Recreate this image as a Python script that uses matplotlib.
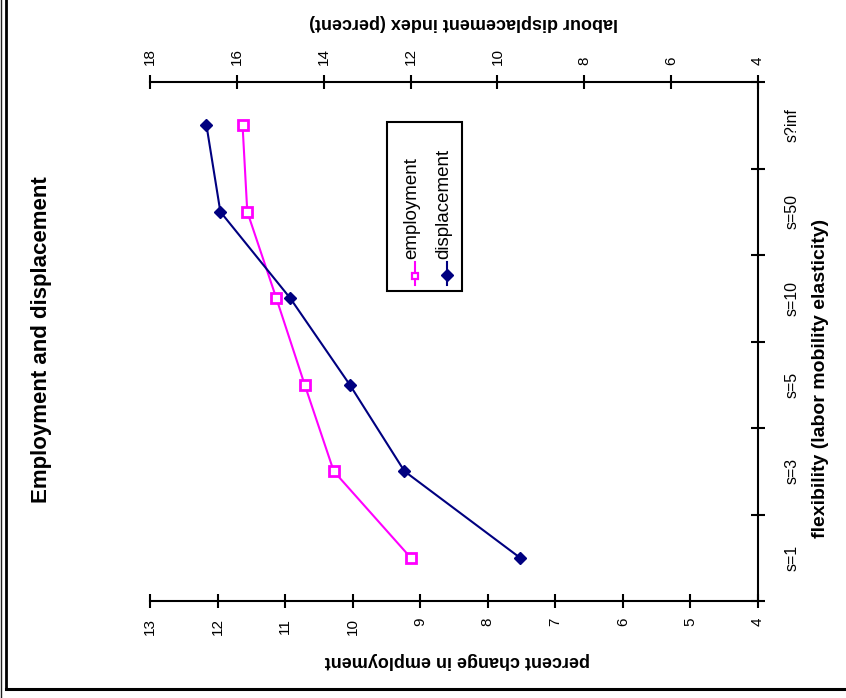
import matplotlib
matplotlib.use("Agg")
import matplotlib.pyplot as plt
from matplotlib.lines import Line2D
from matplotlib.patches import Rectangle

plt.rcParams['font.family'] = ['Liberation Sans', 'DejaVu Sans']

categories = ["s=1", "s=3", "s=5", "s=10", "s=50", "s?inf"]
employment = [9.14, 10.28, 10.71, 11.13, 11.56, 11.63]
displacement = [9.48, 12.14, 13.40, 14.77, 16.38, 16.70]
emp_ticks = [13, 12, 11, 10, 9, 8, 7, 6, 5, 4]
disp_ticks = [18, 16, 14, 12, 10, 8, 6, 4]

W, H = 846, 698
MAG = "#FF00FF"
NAVY = "#000080"

fig = plt.figure(figsize=(W / 100, H / 100), dpi=100)


def fx(x):
    return x / W


def fy(y):
    return 1 - y / H


L, R, T, B = 150, 758, 82, 601
ax = fig.add_axes([fx(L), fy(B), (R - L) / W, (B - T) / H])
ax2 = ax.twiny()

n = len(categories)
ypos = list(range(n))

ax.plot(employment, ypos, color=MAG, lw=1.5, marker='s', ms=6.5,
        mfc='white', mec=MAG, mew=2, zorder=3, clip_on=False)
ax2.plot(displacement, ypos, color=NAVY, lw=1.5, marker='D', ms=6.5,
         mfc=NAVY, mec=NAVY, zorder=3, clip_on=False)

ax.set_xlim(13, 4)
ax2.set_xlim(18, 4)
ax.set_ylim(-0.5, n - 0.5)

# spines
for a in (ax, ax2):
    a.spines['left'].set_visible(False)
    a.patch.set_visible(False)
ax.spines['top'].set_visible(False)
ax2.spines['bottom'].set_visible(False)
ax2.spines['right'].set_visible(False)
for s in ('bottom', 'right'):
    ax.spines[s].set_linewidth(1.5)
ax2.spines['top'].set_linewidth(1.5)

# bottom (employment) axis
ax.set_xticks(emp_ticks)
ax.set_xticklabels([str(t) for t in emp_ticks], rotation=90, fontsize=11)
ax.tick_params(axis='x', direction='inout', length=10, width=1.5, pad=7)

# top (displacement) axis
ax2.set_xticks(disp_ticks)
ax2.set_xticklabels([str(t) for t in disp_ticks], rotation=90, fontsize=11)
ax2.tick_params(axis='x', direction='inout', length=10, width=1.5, pad=7)

# category axis on right
ax.yaxis.tick_right()
ax.set_yticks([i - 0.5 for i in range(n + 1)])
ax.set_yticklabels([])
ax.set_yticks(ypos, minor=True)
ax.set_yticklabels(categories, minor=True, rotation=90, fontsize=11.5, va='center')
ax.tick_params(axis='y', which='major', direction='inout', length=10, width=1.5,
               right=True, left=False)
ax.tick_params(axis='y', which='minor', length=0, pad=19, right=True, left=False)

# titles (rotated like the reference)
fig.text(fx(42), fy(340), "Employment and displacement", rotation=90,
         fontsize=16, fontweight='bold', ha='center', va='center')
fig.text(fx(457), fy(660), "percent change in employment", rotation=180,
         fontsize=13, fontweight='bold', ha='center', va='center')
fig.text(fx(464), fy(22), "labour displacement index (percent)", rotation=180,
         fontsize=13, fontweight='bold', ha='center', va='center')
fig.text(fx(820), fy(378), "flexibility (labor mobility elasticity)", rotation=90,
         fontsize=14, fontweight='bold', ha='center', va='center')

# legend (rotated, drawn manually)
fig.patches.append(Rectangle((fx(387), fy(291)), (462 - 387) / W, (291 - 122) / H,
                             transform=fig.transFigure, fill=False, ec='black', lw=1.5))
fig.lines.append(Line2D([fx(415), fx(415)], [fy(285), fy(262)], transform=fig.transFigure,
                        color=MAG, lw=1.5))
fig.lines.append(Line2D([fx(415)], [fy(276)], transform=fig.transFigure, marker='s', ms=5,
                        mfc='white', mec=MAG, mew=1.6, lw=0))
fig.lines.append(Line2D([fx(447), fx(447)], [fy(285), fy(262)], transform=fig.transFigure,
                        color=NAVY, lw=1.5))
fig.lines.append(Line2D([fx(447)], [fy(275)], transform=fig.transFigure, marker='D', ms=6.5,
                        mfc=NAVY, mec=NAVY, lw=0))
fig.text(fx(412), fy(259), "employment", rotation=90, fontsize=13.5, ha='center', va='bottom')
fig.text(fx(444), fy(259), "displacement", rotation=90, fontsize=13.5, ha='center', va='bottom')

# outer border
fig.lines.append(Line2D([fx(0.7), fx(0.7)], [0, 1], transform=fig.transFigure, color='#222222', lw=1))
fig.lines.append(Line2D([fx(6), fx(6)], [1, fy(689)], transform=fig.transFigure, color='black', lw=2))
fig.lines.append(Line2D([fx(6), 1], [fy(689), fy(689)], transform=fig.transFigure, color='black', lw=2.2))

fig.savefig("out.png", dpi=100)
